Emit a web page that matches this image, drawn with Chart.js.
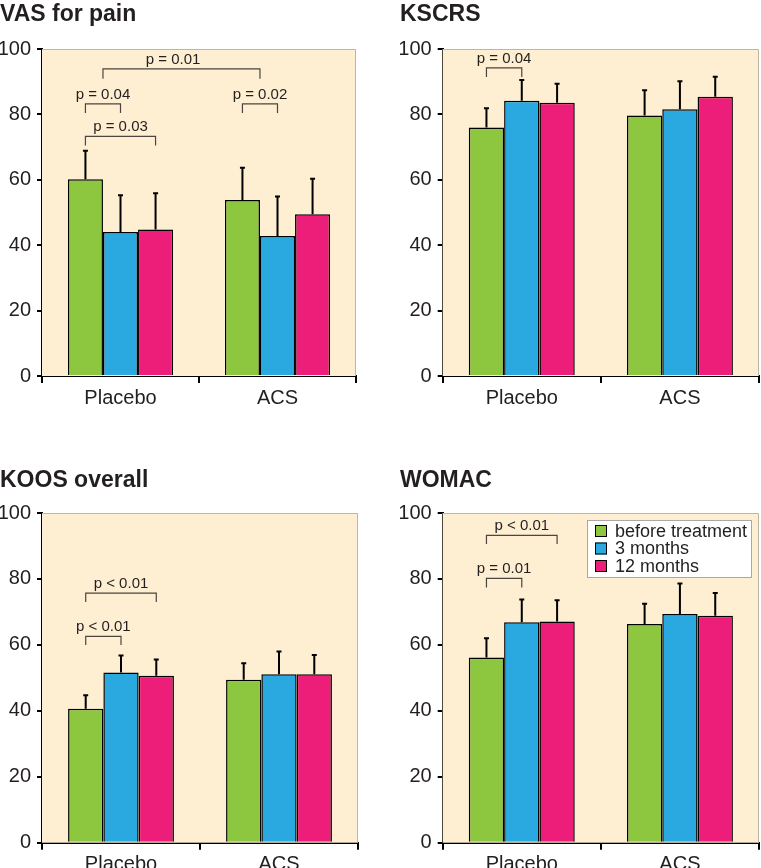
<!DOCTYPE html>
<html><head><meta charset="utf-8">
<script src="https://cdn.jsdelivr.net/npm/chart.js@4.4.1/dist/chart.umd.min.js"></script>
<style>
html,body{margin:0;padding:0;background:#fff;width:761px;height:868px;overflow:hidden}
canvas{position:absolute;display:block}
</style></head><body>
<canvas id="c1" width="361" height="420" style="left:0;top:0"></canvas>
<canvas id="c2" width="361" height="420" style="left:400px;top:0"></canvas>
<canvas id="c3" width="361" height="428" style="left:0;top:440px"></canvas>
<canvas id="c4" width="361" height="428" style="left:400px;top:440px"></canvas>
<script>
// ---- data ----
const categories = ['Placebo', 'ACS'];
const seriesLabels = ['before treatment', '3 months', '12 months'];
const seriesColors = ['#8DC63F', '#29A9E0', '#EC1E79'];
const yTickValues = [0, 20, 40, 60, 80, 100];

const vasBefore = [60.2, 53.8];
const vas3m = [44.0, 42.8];
const vas12m = [44.8, 49.5];
const vasBeforeSd = [8.7, 9.9];
const vas3mSd = [11.3, 12.1];
const vas12mSd = [11.1, 10.8];

const kscrsBefore = [76.0, 79.7];
const kscrs3m = [84.2, 81.6];
const kscrs12m = [83.6, 85.4];
const kscrsBeforeSd = [5.9, 7.7];
const kscrs3mSd = [6.3, 8.5];
const kscrs12mSd = [5.8, 6.1];

const koosBefore = [40.6, 49.4];
const koos3m = [51.6, 51.1];
const koos12m = [50.6, 51.1];
const koosBeforeSd = [4.1, 5.0];
const koos3mSd = [5.2, 6.9];
const koos12mSd = [5.0, 5.8];

const womacBefore = [56.2, 66.3];
const womac3m = [66.9, 69.4];
const womac12m = [67.1, 68.8];
const womacBeforeSd = [5.8, 6.2];
const womac3mSd = [6.9, 9.2];
const womac12mSd = [6.4, 6.9];

// significance brackets: [category, bar offset] endpoints, line level, leg end level
const vasBrackets = [
  {a:[0,-1], b:[0,0], y:83.2, leg:80.4, label:'p = 0.04'},
  {a:[0,-1], b:[0,1], y:73.3, leg:70.5, label:'p = 0.03'},
  {a:[0,-0.5], b:[1,-0.5], y:93.9, leg:90.9, label:'p = 0.01', textAt:[0,1.5]},
  {a:[1,-1], b:[1,0], y:83.2, leg:80.4, label:'p = 0.02'}
];
const kscrsBrackets = [
  {a:[0,-1], b:[0,0], y:94.2, leg:91.4, label:'p = 0.04'}
];
const koosBrackets = [
  {a:[0,-1], b:[0,0], y:62.6, leg:60.0, label:'p < 0.01'},
  {a:[0,-1], b:[0,1], y:75.7, leg:73.0, label:'p < 0.01'}
];
const womacBrackets = [
  {a:[0,-1], b:[0,0], y:80.2, leg:77.4, label:'p = 0.01'},
  {a:[0,-1], b:[0,1], y:93.2, leg:90.6, label:'p < 0.01'}
];

// ---- rendering ----
const FONT = "'Liberation Sans', Arial, Helvetica, sans-serif";
const TEXT = '#231f20';

function barX(chart, cat, off) {
  const el = chart.getDatasetMeta(1).data[cat];
  return el.x + off * el.width;
}

const panelPlugin = {
  id: 'panel',
  beforeDatasetsDraw(chart) {
    const {ctx, chartArea: a} = chart;
    ctx.save();
    ctx.fillStyle = '#FEEFD2';
    ctx.fillRect(a.left, a.top, a.right - a.left, a.bottom - a.top);
    ctx.strokeStyle = '#bdb5a6';
    ctx.lineWidth = 1;
    ctx.beginPath();
    ctx.moveTo(a.left, a.top + 0.5);
    ctx.lineTo(a.right - 0.5, a.top + 0.5);
    ctx.lineTo(a.right - 0.5, a.bottom);
    ctx.stroke();
    ctx.restore();
  },
  afterDatasetsDraw(chart) {
    const {ctx} = chart;
    const ys = chart.scales.y;
    ctx.save();
    ctx.strokeStyle = '#000';
    ctx.lineWidth = 2;
    chart.data.datasets.forEach((ds, di) => {
      const meta = chart.getDatasetMeta(di);
      meta.data.forEach((el, i) => {
        const top = ys.getPixelForValue(ds.data[i] + ds.errors[i]);
        ctx.beginPath();
        ctx.moveTo(el.x, el.y);
        ctx.lineTo(el.x, top);
        ctx.moveTo(el.x - 2.5, top);
        ctx.lineTo(el.x + 2.5, top);
        ctx.stroke();
      });
    });
    ctx.restore();
  },
  afterDraw(chart, args, opts) {
    const {ctx} = chart;
    const ys = chart.scales.y;
    ctx.save();
    ctx.strokeStyle = '#4a4540';
    ctx.lineWidth = 1.2;
    ctx.fillStyle = TEXT;
    ctx.font = '15px ' + FONT;
    ctx.textAlign = 'center';
    ctx.textBaseline = 'alphabetic';
    (opts.brackets || []).forEach(br => {
      const x1 = barX(chart, br.a[0], br.a[1]);
      const x2 = barX(chart, br.b[0], br.b[1]);
      const y = ys.getPixelForValue(br.y);
      const yl = ys.getPixelForValue(br.leg);
      ctx.beginPath();
      ctx.moveTo(x1, yl);
      ctx.lineTo(x1, y);
      ctx.lineTo(x2, y);
      ctx.lineTo(x2, yl);
      ctx.stroke();
      const tx = br.textAt ? barX(chart, br.textAt[0], br.textAt[1]) : (x1 + x2) / 2;
      ctx.fillText(br.label, tx, y - 5);
    });
    if (opts.legend) {
      const a = chart.chartArea;
      const w = 165, h = 58;
      const bx = a.right - 7 - w, by = a.top + 7;
      ctx.fillStyle = '#ffffff';
      ctx.fillRect(bx, by, w, h);
      ctx.strokeStyle = '#a8a8a8';
      ctx.lineWidth = 1;
      ctx.strokeRect(bx + 0.5, by + 0.5, w - 1, h - 1);
      ctx.font = '18px ' + FONT;
      ctx.textAlign = 'left';
      ctx.textBaseline = 'middle';
      chart.data.datasets.forEach((ds, i) => {
        const cy = by + 11 + i * 17.5;
        ctx.fillStyle = ds.backgroundColor;
        ctx.fillRect(bx + 8, cy - 6, 12, 12);
        ctx.strokeStyle = '#000';
        ctx.strokeRect(bx + 8.5, cy - 5.5, 11, 11);
        ctx.fillStyle = TEXT;
        ctx.fillText(ds.label, bx + 28, cy + 1);
      });
    }
    ctx.restore();
  }
};

function makeChart(id, title, series, errors, brackets, lay) {
  return new Chart(document.getElementById(id), {
    type: 'bar',
    data: {
      labels: categories,
      datasets: series.map((s, i) => ({
        label: seriesLabels[i],
        data: s,
        errors: errors[i],
        backgroundColor: seriesColors[i],
        borderColor: '#000',
        borderWidth: 1.5,
        categoryPercentage: 0.67,
        barPercentage: 1.0
      }))
    },
    options: {
      responsive: false,
      animation: false,
      events: [],
      layout: {padding: {left: 0, right: lay.padRight, top: 0, bottom: 0}},
      plugins: {
        legend: {display: false},
        tooltip: {enabled: false},
        title: {
          display: true, text: title, align: 'start', color: TEXT,
          font: {family: FONT, size: 23, weight: 'bold'},
          padding: {top: lay.titleTop, bottom: lay.titleBottom}
        },
        panel: {brackets: brackets, legend: !!lay.legend}
      },
      scales: {
        x: {
          z: 1,
          grid: {drawOnChartArea: false, offset: true, color: '#000', tickLength: 7, lineWidth: 2},
          border: {color: '#000', width: 2},
          ticks: {color: TEXT, font: {family: FONT, size: 20}, padding: 3},
          afterFit(scale) { scale.height = lay.xHeight; }
        },
        y: {
          z: 1,
          min: 0, max: 100,
          afterBuildTicks(scale) { scale.ticks = yTickValues.map(v => ({value: v})); },
          grid: {drawOnChartArea: false, color: '#000', tickLength: 5, lineWidth: 2},
          border: {color: '#000', width: 2},
          ticks: {color: TEXT, font: {family: FONT, size: 20}, padding: 6},
          afterFit(scale) { scale.width = lay.yWidth; }
        }
      }
    },
    plugins: [panelPlugin]
  });
}

makeChart('c1', 'VAS for pain', [vasBefore, vas3m, vas12m], [vasBeforeSd, vas3mSd, vas12mSd], vasBrackets,
  {padRight: 5, titleTop: 0.7, titleBottom: 20.7, xHeight: 44, yWidth: 42});
makeChart('c2', 'KSCRS', [kscrsBefore, kscrs3m, kscrs12m], [kscrsBeforeSd, kscrs3mSd, kscrs12mSd], kscrsBrackets,
  {padRight: 2, titleTop: 0.7, titleBottom: 20.7, xHeight: 44, yWidth: 42.7});
makeChart('c3', 'KOOS overall', [koosBefore, koos3m, koos12m], [koosBeforeSd, koos3mSd, koos12mSd], koosBrackets,
  {padRight: 3, titleTop: 26.7, titleBottom: 18.7, xHeight: 25.3, yWidth: 42});
makeChart('c4', 'WOMAC', [womacBefore, womac3m, womac12m], [womacBeforeSd, womac3mSd, womac12mSd], womacBrackets,
  {padRight: 2, titleTop: 26.7, titleBottom: 18.7, xHeight: 25.3, yWidth: 42.7, legend: true});
</script>
</body></html>
